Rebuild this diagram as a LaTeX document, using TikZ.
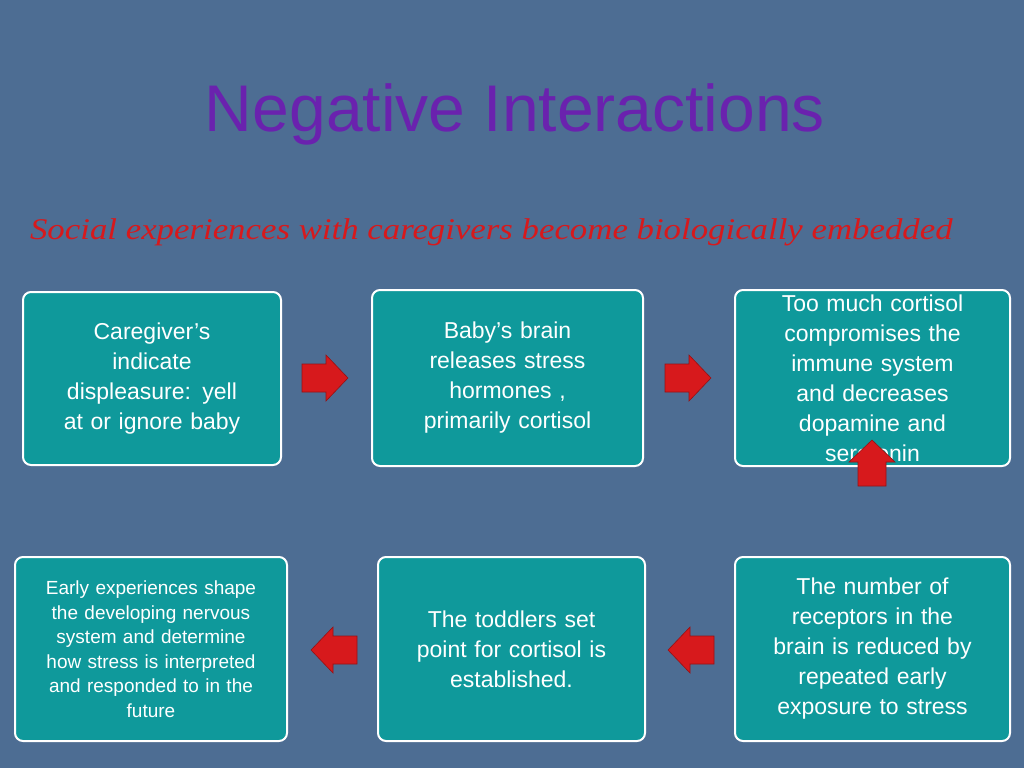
\documentclass[tikz,border=0pt]{standalone}
\usepackage{fontspec}
\setmainfont{Liberation Sans}
\newfontfamily\titlefont{Liberation Sans}
\newfontfamily\handfont{Liberation Serif}
\definecolor{slidebg}{HTML}{4D6D93}
\definecolor{boxteal}{HTML}{0F999B}
\definecolor{titlepurple}{HTML}{6A22AE}
\definecolor{arrowred}{HTML}{D7191C}
\tikzset{
  stepbox/.style={draw=white, line width=2pt, fill=boxteal, rounded corners=8pt,
    text=white, align=center, font=\fontsize{23}{30}\selectfont, inner sep=4pt},
  redarrow/.style={fill=arrowred, draw=arrowred!70!black, line width=0.6pt}
}
% block arrow: tail point, rotation
\newcommand\blockarrow[2]{%
  \begin{scope}[shift={#1}, rotate=#2]
  \draw[redarrow] (0,-14) -- (24,-14) -- (24,-23) -- (46,0) -- (24,23) -- (24,14) -- (0,14) -- cycle;
  \end{scope}}
\begin{document}
\begin{tikzpicture}[x=1pt,y=-1pt]
\fill[slidebg] (0,0) rectangle (1024,768);
\useasboundingbox (0,0) rectangle (1024,768);
\node (title) at (515,114) {\titlefont\color{titlepurple}\fontsize{66}{70}\selectfont Negative Interactions};
\node[anchor=west, xscale=1.16] (sub) at (26,232) {\handfont\itshape\color{arrowred}\fontsize{30}{32}\selectfont Social experiences with caregivers become biologically embedded};
% top row
\node[stepbox, minimum width=258pt, minimum height=173pt, text width=240pt] (care) at (152,378.5) {Caregiver’s\\indicate\\displeasure: yell\\at or ignore baby};
\node[stepbox, minimum width=271pt, minimum height=176pt, text width=250pt] (brain) at (507.5,378) {Baby’s brain\\releases stress\\hormones ,\\primarily cortisol};
\node[stepbox, minimum width=275pt, minimum height=176pt, text width=260pt] (cort) at (872.5,378) {Too much cortisol\\compromises the\\immune system\\and decreases\\dopamine and\\serotonin};
% bottom row
\node[stepbox, minimum width=272pt, minimum height=184pt, text width=260pt, font=\fontsize{19}{24.5}\selectfont] (early) at (151,649) {Early experiences shape\\the developing nervous\\system and determine\\how stress is interpreted\\and responded to in the\\future};
\node[stepbox, minimum width=267pt, minimum height=184pt, text width=250pt] (setp) at (511.5,649) {The toddlers set\\point for cortisol is\\established.};
\node[stepbox, minimum width=275pt, minimum height=184pt, text width=260pt] (recep) at (872.5,649) {The number of\\receptors in the\\brain is reduced by\\repeated early\\exposure to stress};
% arrows
\blockarrow{(302,378)}{0}
\blockarrow{(665,378)}{0}
\blockarrow{(872,486)}{90}
\blockarrow{(714,650)}{180}
\blockarrow{(357,650)}{180}
\end{tikzpicture}
\end{document}
